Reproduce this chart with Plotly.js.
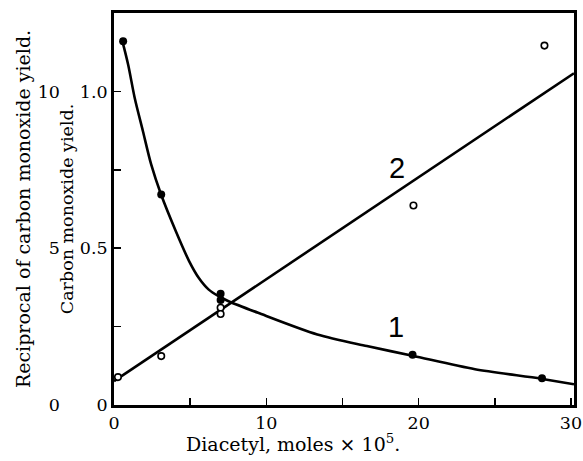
<!DOCTYPE html>
<html>
<head>
<meta charset="utf-8">
<script src="https://cdn.plot.ly/plotly-3.0.1.min.js"></script>
<style>html,body{margin:0;padding:0;background:#fff;}#chart{width:583px;height:461px;}</style>
</head>
<body>
<div id="chart"></div>
<script>
// Curve 1: carbon monoxide yield (filled points)
const coX = [0.6, 3.1, 7.0, 7.0, 19.6, 28.1];
const coY = [1.16, 0.671, 0.355, 0.335, 0.16, 0.085];
// Curve 1 drawn fit
const fit1X = [0.5, 0.93, 1.36, 1.9, 2.44, 3.09, 4.06, 4.93, 5.57, 6.22, 6.87, 7.52, 9.46, 13.35, 16.6, 19.6, 23.7, 28.04, 30.2];
const fit1Y = [1.17, 1.085, 0.979, 0.873, 0.767, 0.671, 0.554, 0.459, 0.405, 0.368, 0.347, 0.331, 0.294, 0.225, 0.188, 0.157, 0.114, 0.084, 0.066];
// Curve 2: reciprocal of carbon monoxide yield (open points)
const recX = [0.26, 3.1, 7.0, 7.0, 19.66, 28.26];
const recY = [0.89, 1.56, 3.1, 2.9, 6.36, 11.46];
// Curve 2 drawn straight line
const fit2X = [0, 30.2];
const fit2Y = [0.76, 10.58];
// Tick labels
const xTickVals = [0, 10, 20, 30];
const xTickText = ["0", "10", "20", "30"];
const xMinorVals = [5, 15, 25];
const yTickVals = [0, 0.5, 1.0];
const yTickText = ["0", "0.5", "1.0"];
const yMinorVals = [0.25, 0.75];
const y2TickVals = [0, 5, 10];
const y2TickText = ["0", "5", "10"];

const serif = {family: "DejaVu Serif", size: 17.5, color: "#000"};
const serifBig = {family: "DejaVu Serif", size: 19, color: "#000"};

const traces = [
  {x: fit1X, y: fit1Y, mode: "lines", line: {color: "#000", width: 2.6, shape: "spline", smoothing: 0.8}, hoverinfo: "skip", yaxis: "y"},
  {x: fit2X, y: fit2Y, mode: "lines", line: {color: "#000", width: 2.6}, hoverinfo: "skip", yaxis: "y2"},
  {x: coX, y: coY, mode: "markers", marker: {color: "#000", size: 8, symbol: "circle"}, yaxis: "y"},
  {x: recX, y: recY, mode: "markers", marker: {color: "#fff", size: 6.5, symbol: "circle", line: {color: "#000", width: 1.6}}, yaxis: "y2"}
];

const W = 583 - 9;
const tickStyle = {ticks: "inside", ticklen: 7, tickwidth: 1.5, tickcolor: "#000"};
const layout = {
  width: 583, height: 461,
  margin: {l: 0, r: 9, t: 13, b: 56},
  paper_bgcolor: "#fff", plot_bgcolor: "#fff",
  showlegend: false,
  font: serif,
  xaxis: Object.assign({
    domain: [114 / W, 1],
    range: [0, 30.2], tickmode: "array", tickvals: xTickVals, ticktext: xTickText,
    minor: Object.assign({tickmode: "array", tickvals: xMinorVals}, tickStyle),
    showline: true, linewidth: 2.8, linecolor: "#000", mirror: true,
    showgrid: false, zeroline: false, tickfont: serif
  }, tickStyle),
  yaxis: Object.assign({
    range: [0, 1.25], tickmode: "array", tickvals: yTickVals, ticktext: yTickText,
    minor: Object.assign({tickmode: "array", tickvals: yMinorVals}, tickStyle),
    showline: true, linewidth: 2.8, linecolor: "#000", mirror: true,
    showgrid: false, zeroline: false, tickfont: serif, ticklabelstandoff: 0,
    title: {text: "Carbon monoxide yield.", font: serif, standoff: 2}
  }, tickStyle),
  yaxis2: {
    overlaying: "y", anchor: "free", position: 60 / W, side: "left",
    range: [0, 12.5], tickmode: "array", tickvals: y2TickVals, ticktext: y2TickText,
    ticks: "", showline: false, showgrid: false, zeroline: false, tickfont: serif,
    title: {text: "Reciprocal of carbon monoxide yield.", font: serifBig, standoff: 1}
  },
  annotations: [
    {xref: "paper", yref: "paper", x: 293 / W, y: 0, yshift: -38, text: "Diacetyl, moles × 10<sup>5</sup>.", showarrow: false, font: serifBig, xanchor: "center", yanchor: "middle"},
    {xref: "x", yref: "y", x: 18.6, y: 0.756, text: "2", showarrow: false, font: {family: "Liberation Sans", size: 29, color: "#000"}},
    {xref: "x", yref: "y", x: 18.5, y: 0.25, text: "1", showarrow: false, font: {family: "Liberation Sans", size: 29, color: "#000"}}
  ]
};

Plotly.newPlot("chart", traces, layout, {displayModeBar: false, staticPlot: true});
</script>
</body>
</html>
